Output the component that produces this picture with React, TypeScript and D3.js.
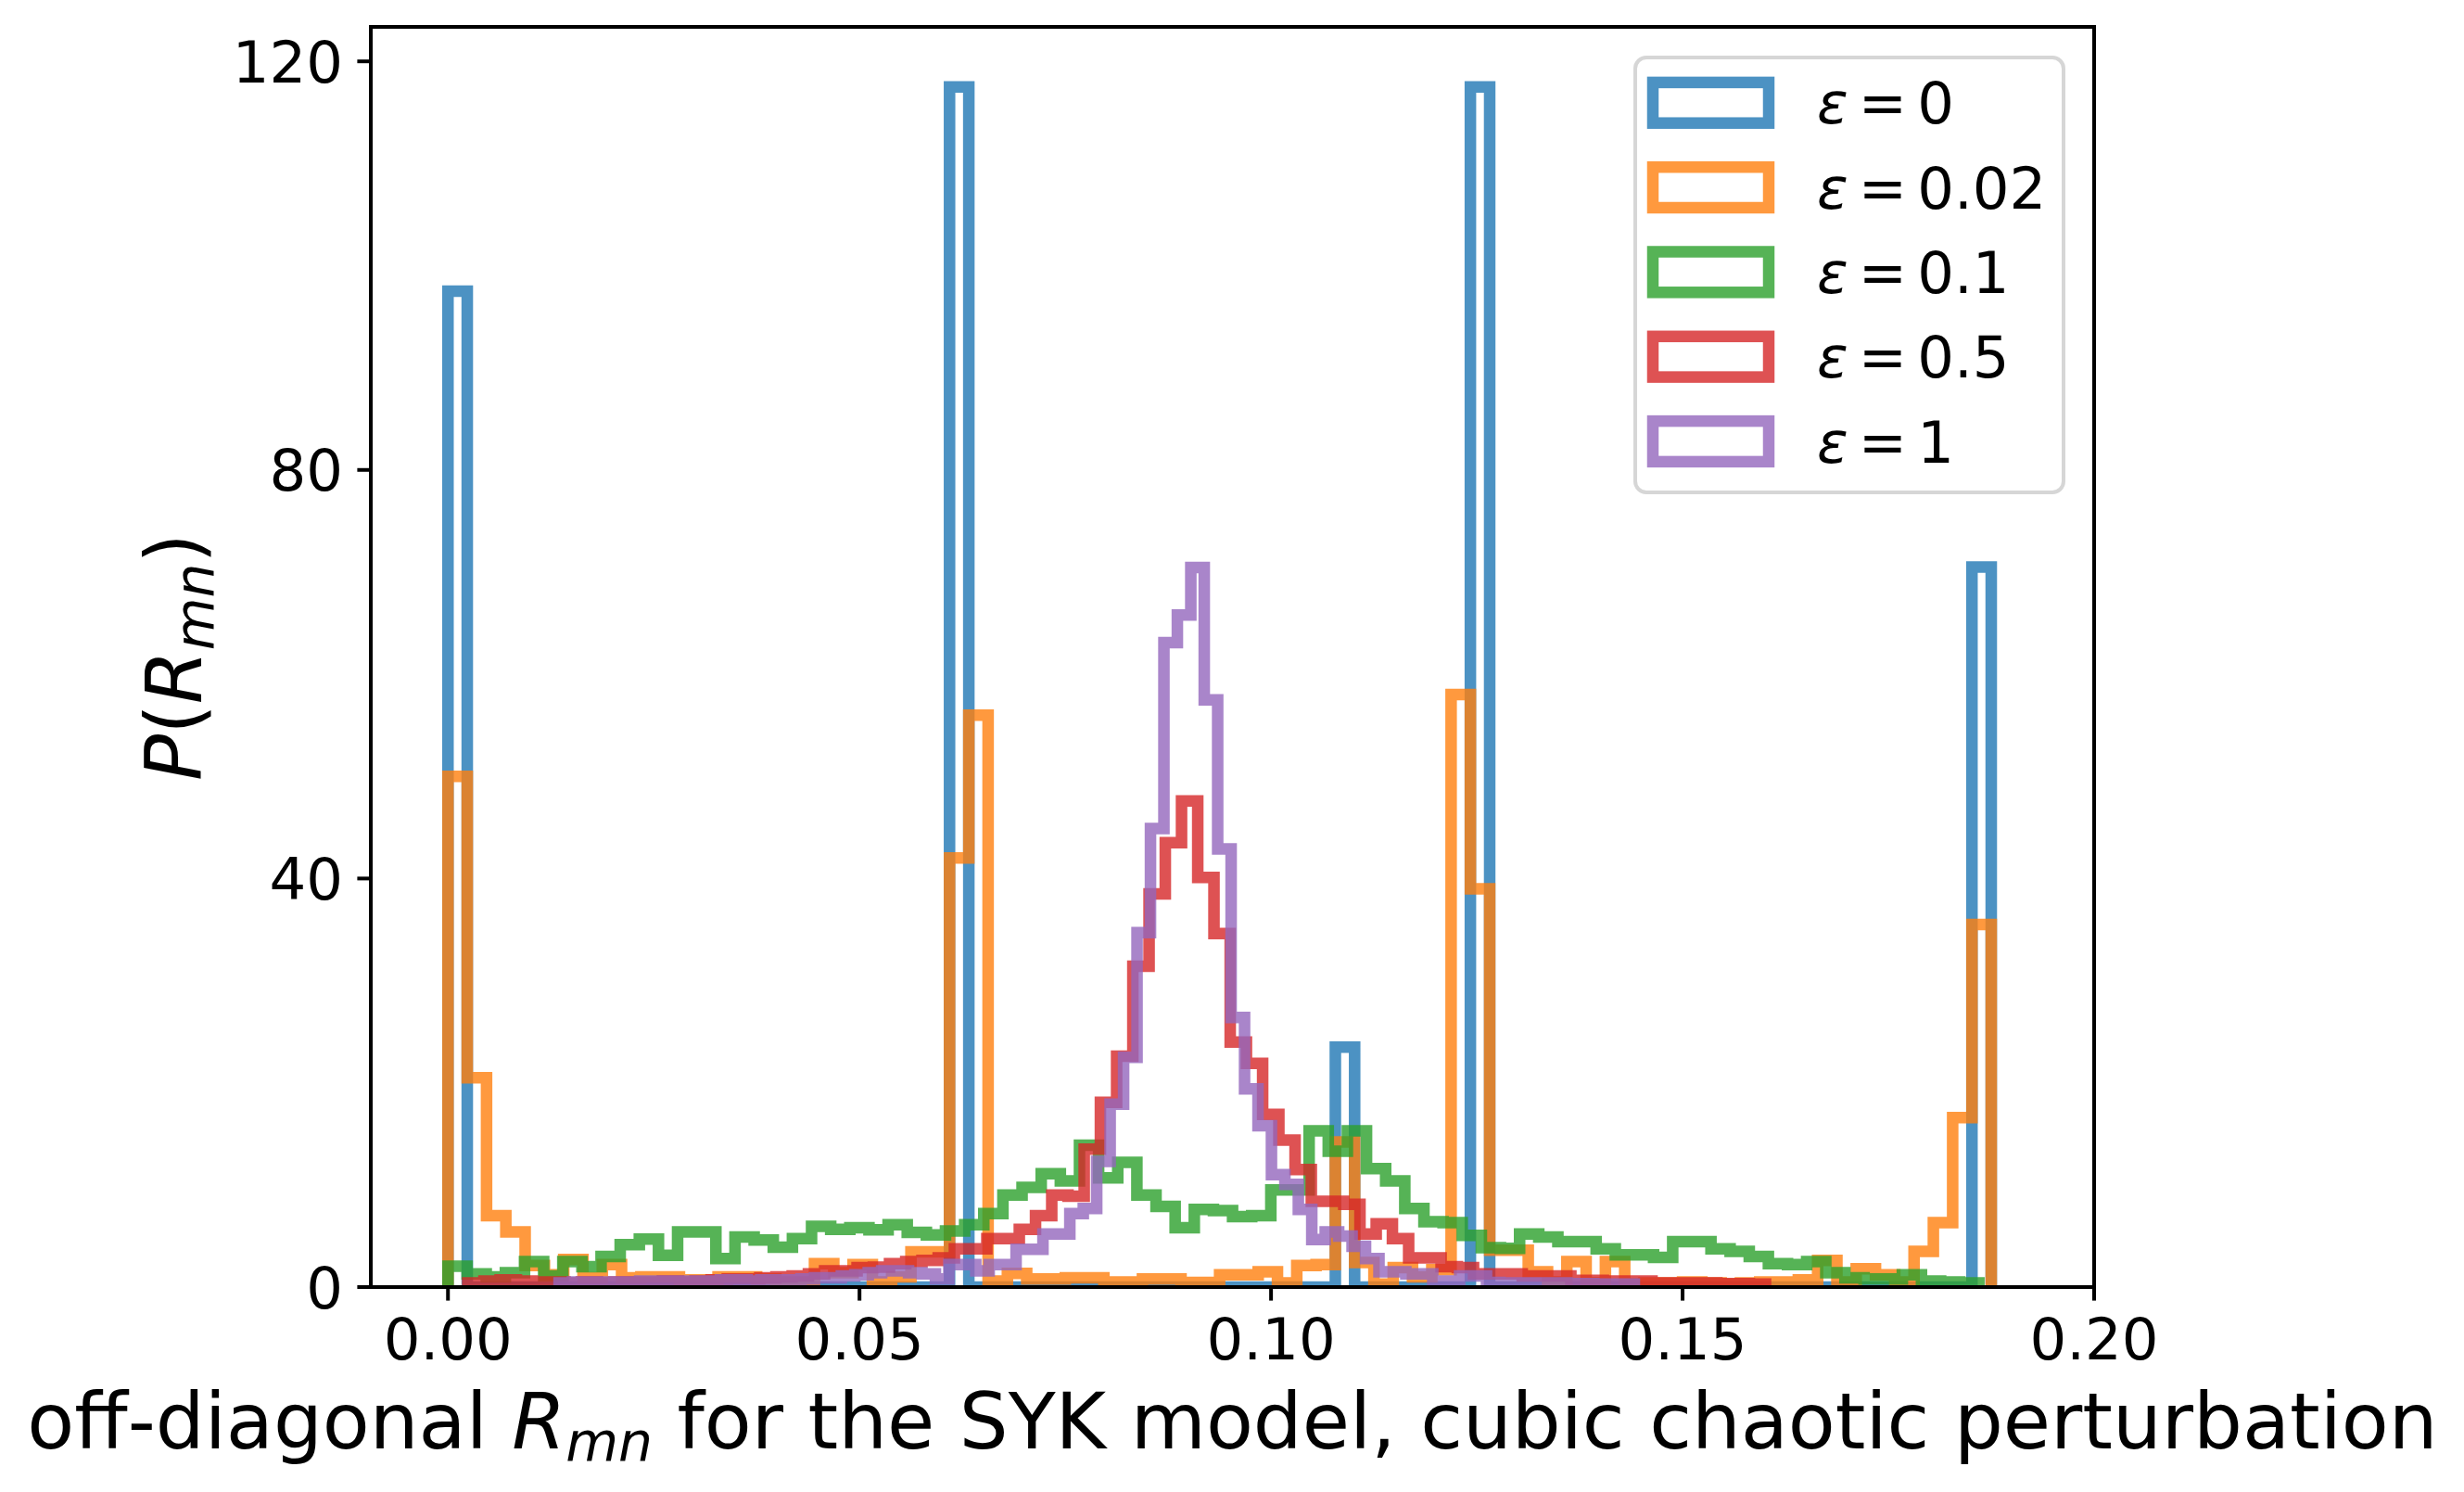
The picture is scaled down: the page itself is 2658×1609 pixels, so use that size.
import React from "react";
import * as d3 from "d3";

const W = 2658;
const H = 1609;
const plotLeft = 400;
const plotRight = 2259;
const plotTop = 29;
const plotBottom = 1388;

const xDomain: [number, number] = [-0.009375, 0.2];
const yDomain: [number, number] = [0, 123.375];
const xTicks = [0, 0.05, 0.1, 0.15, 0.2];
const yTicks = [0, 40, 80, 120];

const seriesLabels = ["0", "0.02", "0.1", "0.5", "1"];
const seriesColors = ["#1f77b4", "#ff7f0e", "#2ca02c", "#d62728", "#9467bd"];
const binStart = [0, 0, 0, 0.0024, 0.0135];
const binWidth = [0.00234375, 0.00234375, 0.002325, 0.001971, 0.001633];

const eps0Values = [
  97.5, 0, 0, 0, 0, 0, 0, 0, 0, 0,
  0, 0, 0, 0, 0, 0, 0, 0, 0, 0,
  0, 0, 0, 0, 0, 0, 117.5, 0, 0, 0,
  0, 0, 0, 0, 0, 0, 0, 0, 0, 0,
  0, 0, 0, 0, 0, 0, 23.5, 0, 0, 0,
  0, 0, 0, 117.5, 0, 0, 0, 0, 0, 0,
  0, 0, 0, 0, 0, 0, 0, 0, 0, 0,
  0, 0, 0, 0, 0, 0, 0, 0, 0, 70.5,
];

const eps002Values = [
  50, 20.5, 7.0, 5.4, 2.1, 1.2, 2.7, 0.9, 2.2, 0.9,
  1.0, 1.0, 0.7, 0.7, 1.0, 1.0, 0.8, 0.5, 0.5, 2.3,
  1.4, 2.2, 0.5, 1.0, 3.45, 3.45, 42, 56, 0.6, 1.35,
  0.8, 0.8, 0.9, 0.9, 0.5, 0.5, 0.8, 0.8, 0.45, 0.45,
  1.2, 1.2, 1.5, 0.4, 2.1, 2.2, 14.2, 2.4, 0.3, 1.9,
  1.0, 1.7, 58, 39, 3.6, 3.6, 1.5, 0.5, 2.5, 0.4,
  2.5, 0.3, 0.4, 0.4, 0.5, 0.4, 0.3, 0.4, 0.5, 0.5,
  0.7, 2.6, 0.5, 1.8, 1.2, 0.5, 3.5, 6.3, 16.6, 35.5,
];

const eps01Values = [
  2.05, 1.3, 1.0, 1.4, 2.5, 1.1, 2.5, 2.0, 3.0, 4.15,
  4.7, 3.1, 5.4, 5.4, 2.8, 4.9, 4.6, 3.9, 4.75, 5.95,
  5.65, 5.8, 5.6, 6.1, 5.35, 5.1, 5.5, 6.1, 7.2, 9.0,
  9.75, 11.1, 10.4, 13.9, 10.7, 12.2, 9.0, 7.9, 5.8, 7.6,
  7.5, 6.9, 7.0, 9.5, 9.5, 15.3, 13.3, 15.3, 11.6, 10.4,
  7.7, 6.4, 6.3, 5.05, 3.85, 3.8, 5.2, 4.9, 4.45, 4.45,
  3.75, 3.15, 3.15, 2.9, 4.45, 4.45, 3.75, 3.5, 3.0, 2.3,
  2.2, 2.5, 1.4, 0.9, 0.8, 0.8, 1.2, 0.6, 0.5, 0.4,
];

const eps05Values = [
  0.4, 0.6, 0.7, 0.6, 0.5, 0.5, 0.4, 0.5, 0.4, 0.5,
  0.5, 0.5, 0.6, 0.5, 0.6, 0.7, 0.8, 0.8, 0.9, 1.0,
  1.1, 1.3, 1.6, 1.6, 1.9, 1.95, 2.3, 2.5, 2.6, 2.85,
  3.75, 3.75, 4.75, 4.75, 5.65, 7.0, 9.0, 8.9, 13.5, 18.1,
  22.6, 31.4, 38.5, 43.5, 47.6, 40.1, 34.6, 24, 21.9, 16.9,
  14.4, 11.5, 8.4, 8.4, 8.1, 5.2, 6.2, 4.75, 2.85, 2.85,
  2.0, 1.9, 1.3, 1.3, 1.3, 1.1, 1.1, 1.1, 0.65, 0.65,
  0.6, 0.6, 0.6, 0.4, 0.4, 0.4, 0.4, 0.35, 0.35, 0.3,
];

const eps1Values = [
  0.4, 0.5, 0.5, 0.5, 0.5, 0.5, 0.6, 0.6, 0.6, 0.6,
  0.6, 0.6, 0.7, 0.7, 0.6, 0.7, 0.7, 0.7, 0.8, 0.9,
  0.9, 1.1, 1.2, 1.4, 1.6, 1.6, 1.4, 1.3, 0.8, 2.2,
  2.2, 1.6, 2.2, 2.2, 3.7, 3.7, 5.2, 5.2, 7.2, 7.7,
  12.3, 17.9, 22.5, 34.7, 44.9, 63.1, 65.8, 70.45, 57.5, 42.9,
  26.4, 19.4, 15.8, 11.0, 10.05, 7.6, 4.65, 5.4, 5.0, 4.0,
  2.8, 1.5, 1.5, 1.3, 1.3, 0.6, 0.6, 1.1, 1.1, 0.45,
  0.4, 0.4, 0.4, 0.4, 0.4, 0.35, 0.35, 0.3, 0.3, 0.3,
];

const seriesValues = [eps0Values, eps002Values, eps01Values, eps05Values, eps1Values];

const FONT = "'DejaVu Sans', Verdana, sans-serif";
const TICK_FS = 62.5;
const LABEL_FS = 83.33;
const LW = 12.5;
const ALPHA = 0.8;

function stepPoints(start: number, w: number, vals: number[]): [number, number][] {
  const pts: [number, number][] = [[start, 0]];
  vals.forEach((v, i) => {
    pts.push([start + i * w, v]);
    pts.push([start + (i + 1) * w, v]);
  });
  pts.push([start + vals.length * w, 0]);
  return pts;
}

export default function App() {
  const x = d3.scaleLinear().domain(xDomain).range([plotLeft, plotRight]);
  const y = d3.scaleLinear().domain(yDomain).range([plotBottom, plotTop]);
  const line = d3
    .line<[number, number]>()
    .x((d) => x(d[0]))
    .y((d) => y(d[1]));
  const fmt = d3.format(".2f");

  const legendLeft = 1764;
  const legendTop = 62;
  const legendW = 462;
  const legendH = 469;
  const rowY0 = 110.8;
  const rowStep = 91.3;

  return (
    <div style={{ position: "absolute", left: 0, top: 0 }}>
      <svg width={W} height={H} viewBox={`0 0 ${W} ${H}`} xmlns="http://www.w3.org/2000/svg">
        <rect x={0} y={0} width={W} height={H} fill="#ffffff" />
        <defs>
          <clipPath id="plotClip">
            <rect x={plotLeft} y={plotTop} width={plotRight - plotLeft} height={plotBottom - plotTop} />
          </clipPath>
        </defs>
        <g clipPath="url(#plotClip)">
          {seriesValues.map((vals, i) => (
            <path
              key={i}
              d={line(stepPoints(binStart[i], binWidth[i], vals)) || ""}
              fill="none"
              stroke={seriesColors[i]}
              strokeOpacity={ALPHA}
              strokeWidth={LW}
              strokeLinejoin="miter"
              strokeLinecap="butt"
            />
          ))}
        </g>
        {/* spines */}
        <rect
          x={plotLeft}
          y={plotTop}
          width={plotRight - plotLeft}
          height={plotBottom - plotTop}
          fill="none"
          stroke="#000"
          strokeWidth={4}
        />
        {/* x ticks */}
        {xTicks.map((t) => (
          <g key={"x" + t}>
            <line x1={x(t)} x2={x(t)} y1={plotBottom} y2={plotBottom + 14.6} stroke="#000" strokeWidth={4} />
            <text
              x={x(t)}
              y={1466}
              textAnchor="middle"
              fontFamily={FONT}
              fontSize={TICK_FS}
              fill="#000"
            >
              {fmt(t)}
            </text>
          </g>
        ))}
        {/* y ticks */}
        {yTicks.map((t) => (
          <g key={"y" + t}>
            <line x1={plotLeft - 14.6} x2={plotLeft} y1={y(t)} y2={y(t)} stroke="#000" strokeWidth={4} />
            <text
              x={370}
              y={y(t) + 22.7}
              textAnchor="end"
              fontFamily={FONT}
              fontSize={TICK_FS}
              fill="#000"
            >
              {String(t)}
            </text>
          </g>
        ))}
        {/* x label */}
        <text
          x={(plotLeft + plotRight) / 2}
          y={1562}
          textAnchor="middle"
          fontFamily={FONT}
          fontSize={LABEL_FS}
          fill="#000"
        >
          <tspan>off-diagonal </tspan>
          <tspan fontStyle="italic">R</tspan>
          <tspan fontStyle="italic" fontSize={LABEL_FS * 0.7} dy={13}>
            mn
          </tspan>
          <tspan dy={-13}> for the SYK model, cubic chaotic perturbation</tspan>
        </text>
        {/* y label */}
        <text
          transform={`translate(216.7, ${(plotTop + plotBottom) / 2}) rotate(-90)`}
          x={0}
          y={0}
          textAnchor="middle"
          fontFamily={FONT}
          fontSize={LABEL_FS}
          fill="#000"
        >
          <tspan fontStyle="italic">P</tspan>
          <tspan>(</tspan>
          <tspan fontStyle="italic">R</tspan>
          <tspan fontStyle="italic" fontSize={LABEL_FS * 0.7} dy={13}>
            mn
          </tspan>
          <tspan dy={-13}>)</tspan>
        </text>
        {/* legend */}
        <rect
          x={legendLeft}
          y={legendTop}
          width={legendW}
          height={legendH}
          rx={12}
          ry={12}
          fill="#ffffff"
          fillOpacity={0.8}
          stroke="#cccccc"
          strokeOpacity={0.8}
          strokeWidth={4}
        />
        {seriesLabels.map((lab, i) => {
          const cy = rowY0 + i * rowStep;
          return (
            <g key={"leg" + i}>
              <rect
                x={1783}
                y={cy - 21.9}
                width={125}
                height={43.8}
                fill="none"
                stroke={seriesColors[i]}
                strokeOpacity={ALPHA}
                strokeWidth={LW}
                strokeLinejoin="miter"
              />
              <text x={1960} y={cy + 22.5} fontFamily={FONT} fontSize={TICK_FS} fill="#000">
                <tspan fontStyle="italic">ε</tspan>
                <tspan dx={11}>=</tspan>
                <tspan dx={11}>{lab}</tspan>
              </text>
            </g>
          );
        })}
      </svg>
    </div>
  );
}
